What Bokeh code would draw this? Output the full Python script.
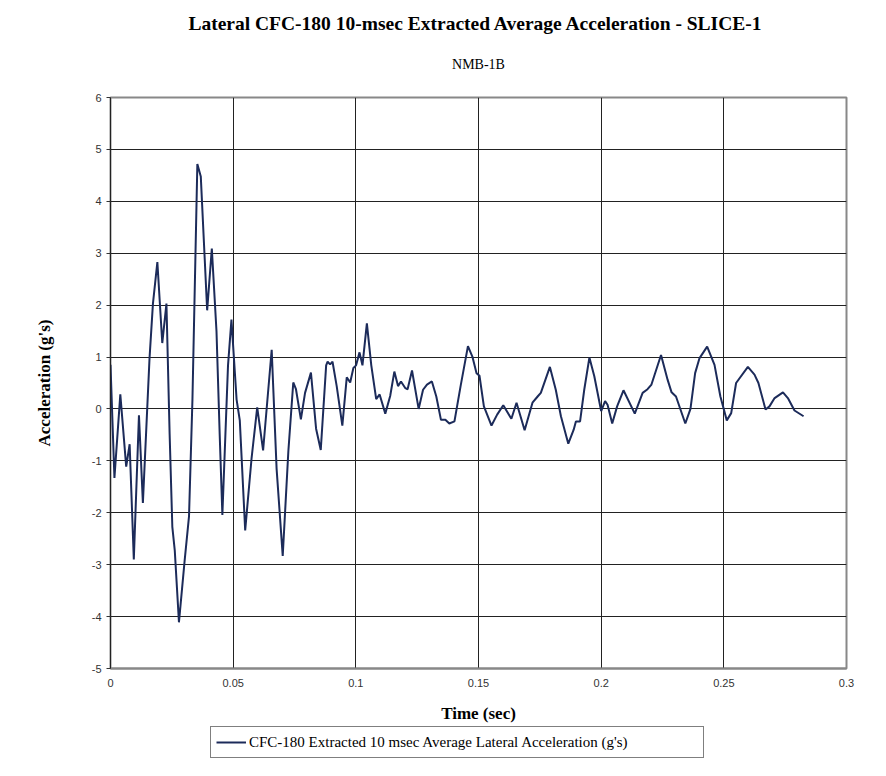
from bokeh.plotting import figure
from bokeh.layouts import column
from bokeh.models import Title, Legend, LegendItem, FixedTicker, Range1d
from bokeh.embed import file_html
from bokeh.resources import INLINE

# ---- data ----
time_s = [0.0, 0.0016, 0.0040, 0.0064, 0.0078, 0.0095, 0.0116, 0.0132, 0.0159, 0.0173,
          0.0191, 0.0211, 0.0228, 0.0241, 0.0252, 0.0262, 0.0279, 0.0302, 0.0320, 0.0334,
          0.0354, 0.0368, 0.0394, 0.0413, 0.0432, 0.0445, 0.0456, 0.0479, 0.0493, 0.0514,
          0.0527, 0.0549, 0.0575, 0.0598, 0.0622, 0.0657, 0.0677, 0.0702, 0.0725, 0.0745,
          0.0756, 0.0776, 0.0793, 0.0817, 0.0838, 0.0857, 0.0879, 0.0885, 0.0895, 0.0905,
          0.0922, 0.0945, 0.0963, 0.0977, 0.0990, 0.1001, 0.1015, 0.1027, 0.1045, 0.1063,
          0.1083, 0.1097, 0.1120, 0.1140, 0.1157, 0.1172, 0.1184, 0.1202, 0.1211, 0.1229,
          0.1256, 0.1274, 0.1290, 0.1310, 0.1328, 0.1347, 0.1365, 0.1381, 0.1402, 0.1427,
          0.1457, 0.1475, 0.1492, 0.1504, 0.1522, 0.1553, 0.1576, 0.1601, 0.1634, 0.1655,
          0.1688, 0.1720, 0.1741, 0.1754, 0.1791, 0.1815, 0.1836, 0.1866, 0.1888, 0.1897,
          0.1914, 0.1931, 0.1952, 0.1972, 0.2000, 0.2016, 0.2026, 0.2045, 0.2065, 0.2091,
          0.2137, 0.2169, 0.2189, 0.2205, 0.2244, 0.2271, 0.2287, 0.2305, 0.2343, 0.2364,
          0.2383, 0.2401, 0.2432, 0.2462, 0.2486, 0.2512, 0.2530, 0.2550, 0.2598, 0.2625,
          0.2641, 0.2670, 0.2686, 0.2707, 0.2741, 0.2761, 0.2788, 0.2825]
accel_g = [0.85, -1.33, 0.28, -1.11, -0.68, -2.90, -0.12, -1.81, 0.97, 2.03,
           2.83, 1.27, 2.03, -0.48, -2.27, -2.73, -4.11, -2.93, -2.07, 0.18,
           4.72, 4.48, 1.90, 3.09, 1.50, -0.48, -2.04, 0.84, 1.72, 0.18,
           -0.22, -2.34, -0.95, 0.03, -0.80, 1.14, -1.15, -2.83, -0.81, 0.51,
           0.38, -0.20, 0.31, 0.70, -0.38, -0.79, 0.84, 0.91, 0.86, 0.91,
           0.44, -0.32, 0.61, 0.51, 0.79, 0.84, 1.09, 0.84, 1.65, 0.84,
           0.19, 0.28, -0.09, 0.25, 0.72, 0.44, 0.53, 0.40, 0.38, 0.74,
           0.00, 0.37, 0.47, 0.53, 0.24, -0.21, -0.21, -0.28, -0.24, 0.44,
           1.21, 1.01, 0.69, 0.64, 0.05, -0.32, -0.11, 0.07, -0.19, 0.12,
           -0.41, 0.12, 0.24, 0.31, 0.81, 0.37, -0.14, -0.67, -0.40, -0.24,
           -0.24, 0.37, 0.99, 0.63, -0.04, 0.15, 0.08, -0.28, 0.05, 0.36,
           -0.09, 0.31, 0.38, 0.47, 1.04, 0.56, 0.32, 0.24, -0.28, 0.00,
           0.69, 0.98, 1.20, 0.85, 0.24, -0.22, -0.08, 0.50, 0.81, 0.66,
           0.50, -0.01, 0.05, 0.21, 0.32, 0.21, -0.03, -0.14]

x_ticks = [0, 0.05, 0.1, 0.15, 0.2, 0.25, 0.3]
x_tick_labels = ["0", "0.05", "0.1", "0.15", "0.2", "0.25", "0.3"]
y_ticks = [-5, -4, -3, -2, -1, 0, 1, 2, 3, 4, 5, 6]
y_tick_labels = [str(v) for v in y_ticks]

title_text = "Lateral CFC-180 10-msec Extracted Average Acceleration  - SLICE-1"
subtitle_text = "NMB-1B"
x_label = "Time (sec)"
y_label = "Acceleration (g's)"
series_label = "CFC-180 Extracted 10 msec Average Lateral Acceleration (g's)"

SERIF = "Liberation Serif"
SANS = "Liberation Sans"
LINE_COLOR = "#1c2b5a"

p = figure(frame_width=736, frame_height=571,
           x_range=Range1d(0, 0.3), y_range=Range1d(-5, 6),
           output_backend="svg", toolbar_location=None,
           min_border_left=110, min_border_right=24,
           min_border_top=97, min_border_bottom=58)

p.title.text = title_text
p.title.align = "center"
p.title.text_font = SERIF
p.title.text_font_size = "19.5px"
p.title.text_font_style = "bold"
p.title.text_color = "#000000"
p.title.standoff = 0
p.title.vertical_align = "bottom"

p.add_layout(Title(text=subtitle_text, align="center", text_font=SERIF,
                   text_font_size="14px", text_font_style="normal",
                   text_color="#000000", standoff=47, vertical_align="top"),
             "above")

r = p.line(time_s, accel_g, line_color=LINE_COLOR, line_width=2)

# axes
p.xaxis.ticker = FixedTicker(ticks=x_ticks)
p.xaxis.major_label_overrides = {t: l for t, l in zip(x_ticks, x_tick_labels)}
p.yaxis.ticker = FixedTicker(ticks=y_ticks)
p.yaxis.major_label_overrides = {t: l for t, l in zip(y_ticks, y_tick_labels)}
p.xaxis.minor_tick_line_color = None
p.yaxis.minor_tick_line_color = None
p.xaxis.major_tick_in = 0
p.xaxis.major_tick_out = 0
p.yaxis.major_tick_in = 0
p.yaxis.major_tick_out = 4
p.yaxis.major_tick_line_color = "#333333"
p.xaxis.axis_line_color = "#888888"
p.xaxis.axis_line_width = 2
p.yaxis.axis_line_color = "#222222"
for ax in (p.xaxis, p.yaxis):
    ax.major_label_text_font = SANS
    ax.major_label_text_font_size = "11px"
    ax.major_label_text_color = "#333333"
    ax.axis_label_text_font = SERIF
    ax.axis_label_text_font_size = "17px"
    ax.axis_label_text_font_style = "bold"
    ax.axis_label_text_color = "#000000"
p.xaxis.axis_label = x_label
p.yaxis.axis_label = y_label
p.xaxis.major_label_standoff = 10
p.yaxis.major_label_standoff = 5
p.xaxis.axis_label_standoff = 14
p.yaxis.axis_label_standoff = 35

# grid and frame
p.xgrid.grid_line_color = "#222222"
p.ygrid.grid_line_color = "#222222"
p.xgrid.grid_line_width = 1
p.ygrid.grid_line_width = 1
p.outline_line_color = "#888888"
p.outline_line_width = 2
p.background_fill_color = "#ffffff"
p.border_fill_color = "#ffffff"

# legend strip below the chart (its own small figure so it is never clipped);
# its ranges keep the series itself out of view, only the key sample shows
lg = figure(width=870, height=34, output_backend="svg", toolbar_location=None,
            x_range=Range1d(0, 0.3), y_range=Range1d(10, 11),
            x_axis_location=None, y_axis_location=None,
            min_border_left=0, min_border_right=0, min_border_top=0,
            min_border_bottom=0)
lg.title.text = ""
lg.xgrid.visible = False
lg.ygrid.visible = False
lg.outline_line_color = None
lg.background_fill_color = "#ffffff"
lg.border_fill_color = "#ffffff"
r_key = lg.line(time_s, accel_g, line_color=LINE_COLOR, line_width=2)

legend = Legend(items=[LegendItem(label=series_label, renderers=[r_key])],
                location=(100, 2), orientation="horizontal",
                label_text_font=SERIF, label_text_font_size="15px",
                label_text_color="#000000",
                border_line_color="#000000", border_line_width=1,
                glyph_width=30, label_standoff=3, padding=5, margin=0,
                label_width=449,
                background_fill_color="#ffffff")
lg.add_layout(legend, "center")

layout = column(p, lg, spacing=0)

open("out.html", "w").write(file_html(layout, INLINE))
